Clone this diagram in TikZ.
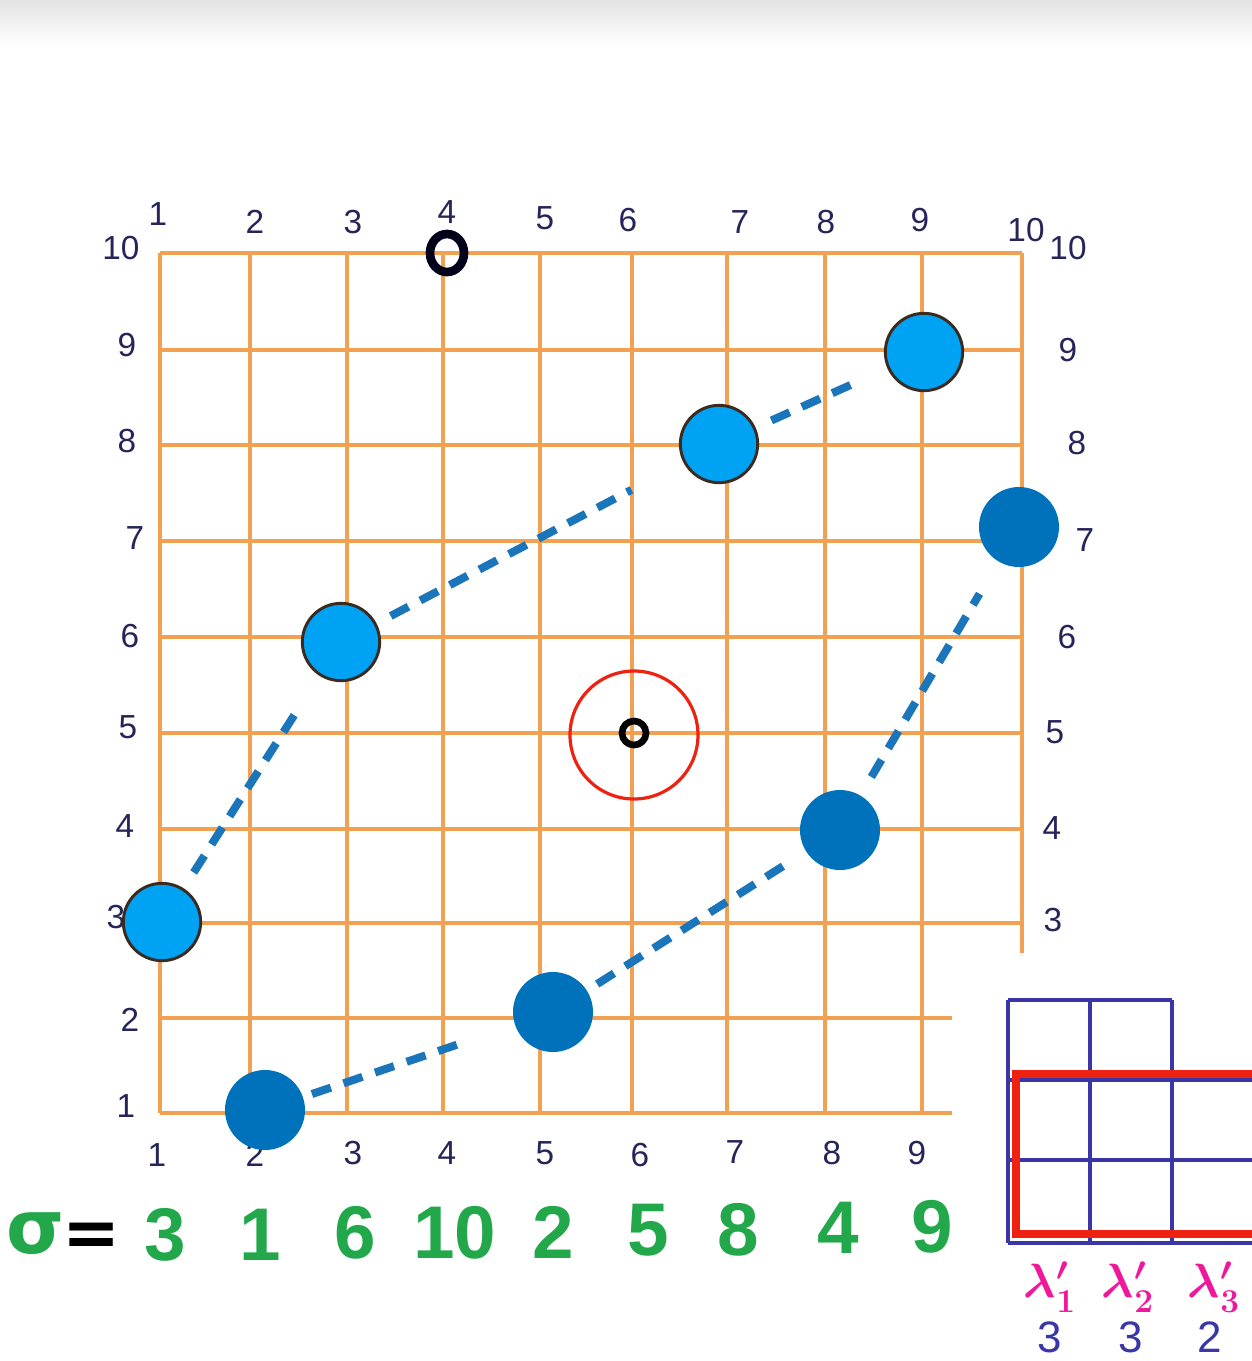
\documentclass[tikz,border=0pt]{standalone}
\usepackage{fontspec}
\setmainfont{Liberation Sans}
\newfontfamily\djv{DejaVu Sans}
\definecolor{gridor}{HTML}{F2A052}
\definecolor{lblue}{HTML}{00A3F4}
\definecolor{dblue}{HTML}{0072BC}
\definecolor{dashcol}{HTML}{1B75BB}
\definecolor{rim}{HTML}{3B2A20}
\definecolor{inknavy}{HTML}{25255A}
\definecolor{penblue}{HTML}{3A36A8}
\definecolor{markgreen}{HTML}{22A84A}
\definecolor{redmark}{HTML}{EE2211}
\definecolor{magpen}{HTML}{F0189A}
\begin{document}
\begin{tikzpicture}[x=0.75pt,y=-0.75pt,
  gridline/.style={draw=gridor,line width=2.4pt},
  lb/.style={circle,fill=lblue,draw=rim,line width=2.2pt,minimum size=58pt,inner sep=0pt},
  db/.style={circle,fill=dblue,minimum size=60pt,inner sep=0pt},
  chain/.style={draw=dashcol,line width=6pt,dash pattern=on 15pt off 10pt},
  axl/.style={text=inknavy,font=\fontsize{25}{25}\selectfont,inner sep=0pt},
  sig/.style={text=markgreen,font=\fontsize{56}{56}\selectfont\bfseries,inner sep=0pt},
  inset/.style={draw=penblue,line width=2.8pt},
  lam/.style={text=magpen,font=\fontsize{24}{24}\selectfont\boldmath,inner sep=0pt},
  cnt/.style={text=penblue,font=\fontsize{33}{33}\selectfont,inner sep=0pt}]
\useasboundingbox (0,0) rectangle (1252,1361);
\fill[white] (0,0) rectangle (1252,1361);
\shade[top color=gray!22,bottom color=white] (0,0) rectangle (1252,45);
% grid
\foreach \x in {160,250,347,443,540,632,727,825,922,1022}
  \draw[gridline] (\x,253) -- (\x,1113);
\foreach \y in {253,350,445,541,637,733,829,923,1018,1113}
  \draw[gridline] (160,\y) -- (1022,\y);
% axis labels
\foreach \n/\x/\y in {1/158/214,2/255/222,3/353/222,4/447/212,5/545/218,6/628/220,7/740/222,8/826/222,9/920/220,10/1026/230}
  \node[axl] (top\n) at (\x,\y) {\n};
\node[axl] (ltop) at (121,248) {10};
\node[axl] (rtop) at (1068,248) {10};
\foreach \n/\x/\y in {9/127/345,8/127/441,7/135/538,6/130/636,5/128/727,4/125/826,3/116/917,2/130/1020,1/126/1106}
  \node[axl] (left\n) at (\x,\y) {\n};
\foreach \n/\x/\y in {9/1068/350,8/1077/443,7/1085/540,6/1067/637,5/1055/732,4/1052/828,3/1053/920}
  \node[axl] (right\n) at (\x,\y) {\n};
\foreach \n/\x/\y in {1/157/1155,2/255/1155,3/353/1153,4/447/1153,5/545/1153,6/640/1155,7/735/1152,8/832/1153,9/917/1153}
  \node[axl] (bot\n) at (\x,\y) {\n};
% marks
\draw[black!90!blue,line width=6.5pt] (447,253) ellipse [x radius=17, y radius=19];
\draw[redmark,line width=2.4pt] (634,735) circle [radius=64];
\draw[black,line width=5pt] (634,733) circle [radius=12];
% points
\node[lb] (p1) at (162,922) {};
\node[lb] (p3) at (341,642) {};
\node[lb] (p7) at (719,444) {};
\node[lb] (p9) at (924,352) {};
\node[db] (p2) at (265,1110) {};
\node[db] (p5) at (553,1012) {};
\node[db] (p8) at (840,830) {};
\node[db] (p10) at (1019,527) {};
% chains
\draw[chain,shorten <=14pt,shorten >=32pt] (p1) -- (p3);
\draw[chain,shorten <=12pt,shorten >=44pt] (p3) -- (p7);
\draw[chain,shorten <=13pt,shorten >=27pt] (p7) -- (p9);
\draw[chain,shorten <=7pt,shorten >=46pt] (p2) -- (p5);
\draw[chain,shorten <=9pt,shorten >=13pt] (p5) -- (p8);
\draw[chain,shorten <=16pt,shorten >=28pt] (p8) -- (p10);
% sigma row
\node[text=markgreen,font=\djv\fontsize{56}{56}\selectfont\bfseries,inner sep=0pt] (sigma) at (36,1234) {σ};
\node[text=black,font=\djv\fontsize{52}{52}\selectfont\bfseries,inner sep=0pt] (eq) at (92,1240) {=};
\foreach \n/\v/\x/\y in {a/3/165/1235,b/1/260/1235,c/6/355/1233,d/10/455/1233,e/2/553/1232,f/5/648/1230,g/8/738/1230,h/4/838/1228,i/9/932/1227}
  \node[sig] (s\n) at (\x,\y) {\v};
% inset
\fill[white] (952,953) rectangle (1252,1361);
\begin{scope}
\clip (952,953) rectangle (1252,1361);
\draw[inset] (1008,1000) -- (1172,1000);
\draw[inset] (1008,1000) -- (1008,1243);
\draw[inset] (1090,1000) -- (1090,1243);
\draw[inset] (1172,1000) -- (1172,1243);
\draw[inset] (1008,1080) -- (1260,1080);
\draw[inset] (1008,1160) -- (1260,1160);
\draw[inset] (1008,1243) -- (1260,1243);
\draw[redmark,line width=6pt] (1016,1074) rectangle (1270,1234);
\end{scope}
\node[lam] (l1) at (1050,1287) {\scalebox{1.45}{$\lambda'_1$}};
\node[lam] (l2) at (1128,1287) {\scalebox{1.45}{$\lambda'_2$}};
\node[lam] (l3) at (1214,1287) {\scalebox{1.45}{$\lambda'_3$}};
\node[cnt] (c1) at (1050,1337) {3};
\node[cnt] (c2) at (1131,1337) {3};
\node[cnt] (c3) at (1210,1337) {2};
\end{tikzpicture}
\end{document}
